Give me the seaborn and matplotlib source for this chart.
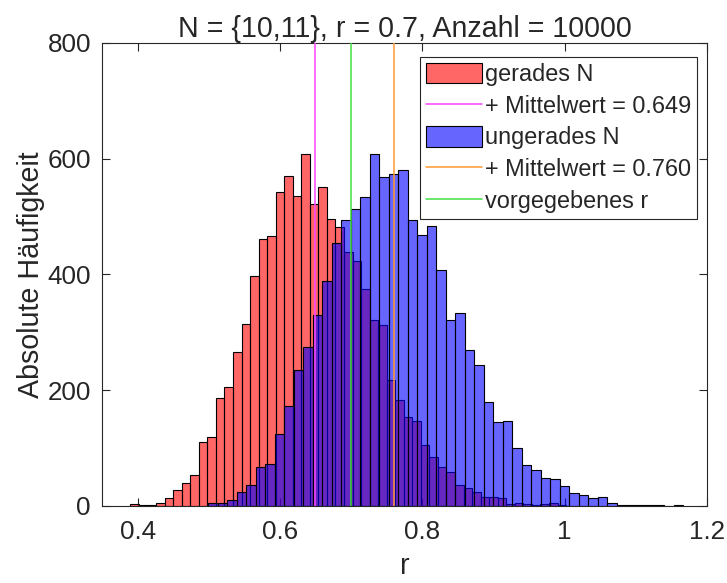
import numpy as np
import pandas as pd
import matplotlib
matplotlib.use("Agg")
import matplotlib.pyplot as plt
from matplotlib.patches import Patch
from matplotlib.lines import Line2D
import seaborn as sns

# Histogram counts of the correlation coefficient r (10000 samples each)
red_start, red_width = 0.39, 0.012          # bins for even N
red_counts = [3, 1, 1, 6, 13, 28, 39, 53, 110, 120, 186, 206, 266, 314, 397,
              461, 467, 542, 570, 536, 608, 522, 552, 496, 482, 439, 424, 375,
              322, 312, 217, 183, 153, 146, 105, 84, 68, 59, 36, 31, 25, 16,
              15, 13, 3, 5, 3, 1, 3, 5, 1]

blue_start, blue_width = 0.4994, 0.01334     # bins for odd N
blue_counts = [5, 6, 10, 25, 37, 68, 72, 124, 173, 235, 274, 330, 388, 455,
               494, 513, 533, 609, 569, 573, 580, 494, 469, 484, 408, 322, 334,
               270, 243, 180, 145, 146, 100, 71, 62, 49, 47, 35, 23, 19, 14,
               15, 5, 2, 2, 1, 2, 2, 0, 2]

mean_even = 0.649
mean_odd = 0.760
r_given = 0.7

labels = ["gerades N", f"+ Mittelwert = {mean_even:.3f}", "ungerades N",
          f"+ Mittelwert = {mean_odd:.3f}", "vorgegebenes r"]
title = "N = {10,11}, r = 0.7, Anzahl = 10000"
xticks = [0.4, 0.6, 0.8, 1.0, 1.2]
xticklabels = ["0.4", "0.6", "0.8", "1", "1.2"]
yticks = [0, 200, 400, 600, 800]

sns.set_style("ticks")
plt.rcParams["font.family"] = ["Liberation Sans", "DejaVu Sans"]
ink = "#262626"
plt.rcParams.update({"text.color": ink, "axes.labelcolor": ink,
                     "xtick.color": ink, "ytick.color": ink,
                     "axes.edgecolor": ink})

fig = plt.figure(figsize=(7.27, 5.83), dpi=100)
ax = fig.add_axes([0.1403, 0.1321, 0.8322, 0.7942])


def hist_from_counts(start, width, counts, color):
    n = len(counts)
    edges = [start + width * i for i in range(n + 1)]
    df = pd.DataFrame({"r": [start + width * (i + 0.5) for i in range(n)],
                       "n": [float(c) for c in counts]})
    sns.histplot(data=df, x="r", weights="n", bins=edges, color=color,
                 alpha=0.6, edgecolor="black", linewidth=0.8, ax=ax,
                 zorder=2)


hist_from_counts(red_start, red_width, red_counts, (1, 0, 0))
hist_from_counts(blue_start, blue_width, blue_counts, (0, 0, 1))

c_even, c_odd, c_given = "#ff44ff", "#ff9933", "#44e044"
ax.axvline(mean_even, color=c_even, lw=1.1, zorder=3)
ax.axvline(r_given, color=c_given, lw=1.1, zorder=3)
ax.axvline(mean_odd, color=c_odd, lw=1.1, zorder=3)

ax.set_xlim(0.35, 1.2)
ax.set_ylim(0, 800)
ax.set_xticks(xticks)
ax.set_xticklabels(xticklabels)
ax.set_yticks(yticks)
ax.tick_params(direction="in", top=True, right=True, length=6, width=0.8,
               labelsize=18.7)
ax.tick_params(axis="x", pad=10)
ax.tick_params(axis="y", pad=8)
for s in ax.spines.values():
    s.set_linewidth(0.8)
    s.set_color(ink)

ax.set_xlabel("r", fontsize=20.6, labelpad=6)
ax.set_ylabel("Absolute Häufigkeit", fontsize=20.6, labelpad=1.5)
ax.set_title(title, fontsize=20.6, pad=4)

handles = [
    Patch(facecolor=(1, 0, 0, 0.6), edgecolor="black", linewidth=0.8),
    Line2D([], [], color=c_even, lw=1.1),
    Patch(facecolor=(0, 0, 1, 0.6), edgecolor="black", linewidth=0.8),
    Line2D([], [], color=c_odd, lw=1.1),
    Line2D([], [], color=c_given, lw=1.1),
]
leg = ax.legend(handles, labels, loc="upper right",
                bbox_to_anchor=(0.9835, 0.9698), borderaxespad=0,
                fontsize=16.9, handlelength=2.4, handleheight=0.97,
                handletextpad=0.12, labelspacing=0.36, borderpad=0.24,
                fancybox=False, framealpha=1, edgecolor=ink)
leg.get_frame().set_linewidth(0.8)
leg.set_zorder(5)

fig.savefig("out.png", dpi=100)
